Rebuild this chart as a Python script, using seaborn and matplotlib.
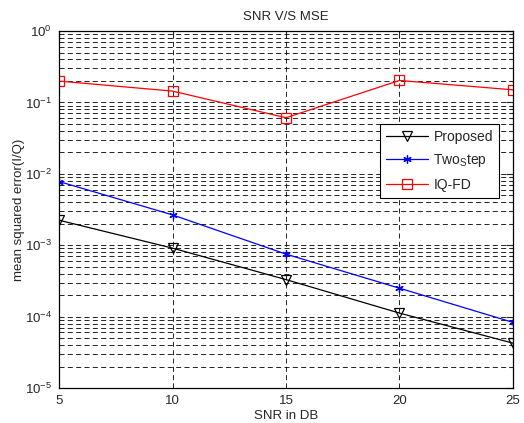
import numpy as np
import pandas as pd
import matplotlib
matplotlib.use("Agg")
import matplotlib.pyplot as plt
import seaborn as sns
from matplotlib.ticker import LogLocator, NullFormatter

snr = [5, 10, 15, 20, 25]
proposed = [2.24e-3, 9.1e-4, 3.3e-4, 1.12e-4, 4.25e-5]
two_step = [7.8e-3, 2.66e-3, 7.5e-4, 2.5e-4, 8.3e-5]
iq_fd = [0.199, 0.144, 0.061, 0.203, 0.15]

sns.set_style("white")
plt.rcParams["font.family"] = ["Liberation Sans", "DejaVu Sans"]
plt.rcParams["mathtext.default"] = "regular"

fig = plt.figure(figsize=(5.24, 4.23), dpi=100)
ax = fig.add_axes([0.1126, 0.0827, 0.8664, 0.844])

sns.lineplot(x=snr, y=proposed, ax=ax, color="black", linewidth=0.9,
             marker="v", markersize=6.5, markerfacecolor="none",
             markeredgecolor="black", markeredgewidth=0.9, label="Proposed")
sns.lineplot(x=snr, y=two_step, ax=ax, color="blue", linewidth=0.9,
             marker=(6, 2, 0), markersize=6, markeredgecolor="blue",
             markeredgewidth=0.9, label="Two$_{S}$tep")
sns.lineplot(x=snr, y=iq_fd, ax=ax, color="red", linewidth=0.9,
             marker="s", markersize=6.5, markerfacecolor="none",
             markeredgecolor="red", markeredgewidth=0.9, label="IQ-FD")

ax.set_yscale("log")
ax.set_xlim(5, 25)
ax.set_ylim(1e-5, 1)
ax.set_xticks([5, 10, 15, 20, 25])
ax.yaxis.set_major_locator(LogLocator(base=10, numticks=10))
ax.yaxis.set_minor_locator(LogLocator(base=10, subs=np.arange(2, 10), numticks=10))
ax.yaxis.set_minor_formatter(NullFormatter())

grid_kw = dict(color="black", linestyle=(0, (6, 4)), linewidth=0.6)
ax.grid(True, which="major", axis="both", **grid_kw)
ax.grid(True, which="minor", axis="y", **grid_kw)

ax.tick_params(which="both", direction="in", top=True, right=True,
               labelsize=9.5, width=0.8, pad=5)
ax.tick_params(which="major", length=5)
ax.tick_params(which="minor", length=3)
for s in ax.spines.values():
    s.set_visible(True)
    s.set_color("black")
    s.set_linewidth(0.9)

ax.set_title("SNR V/S MSE", fontsize=9.5, pad=8)
ax.set_xlabel("SNR in DB", fontsize=9.5, labelpad=2)
ax.set_ylabel("mean squared error(I/Q)", fontsize=9.5, labelpad=0)

leg = ax.legend(loc="upper right", bbox_to_anchor=(0.985, 0.76),
                fontsize=10, frameon=True, fancybox=False,
                edgecolor="black", framealpha=1, borderpad=0.45,
                handlelength=3.0, handletextpad=0.4, labelspacing=0.6)
leg.get_frame().set_linewidth(0.8)

fig.savefig("out.png", dpi=100)
